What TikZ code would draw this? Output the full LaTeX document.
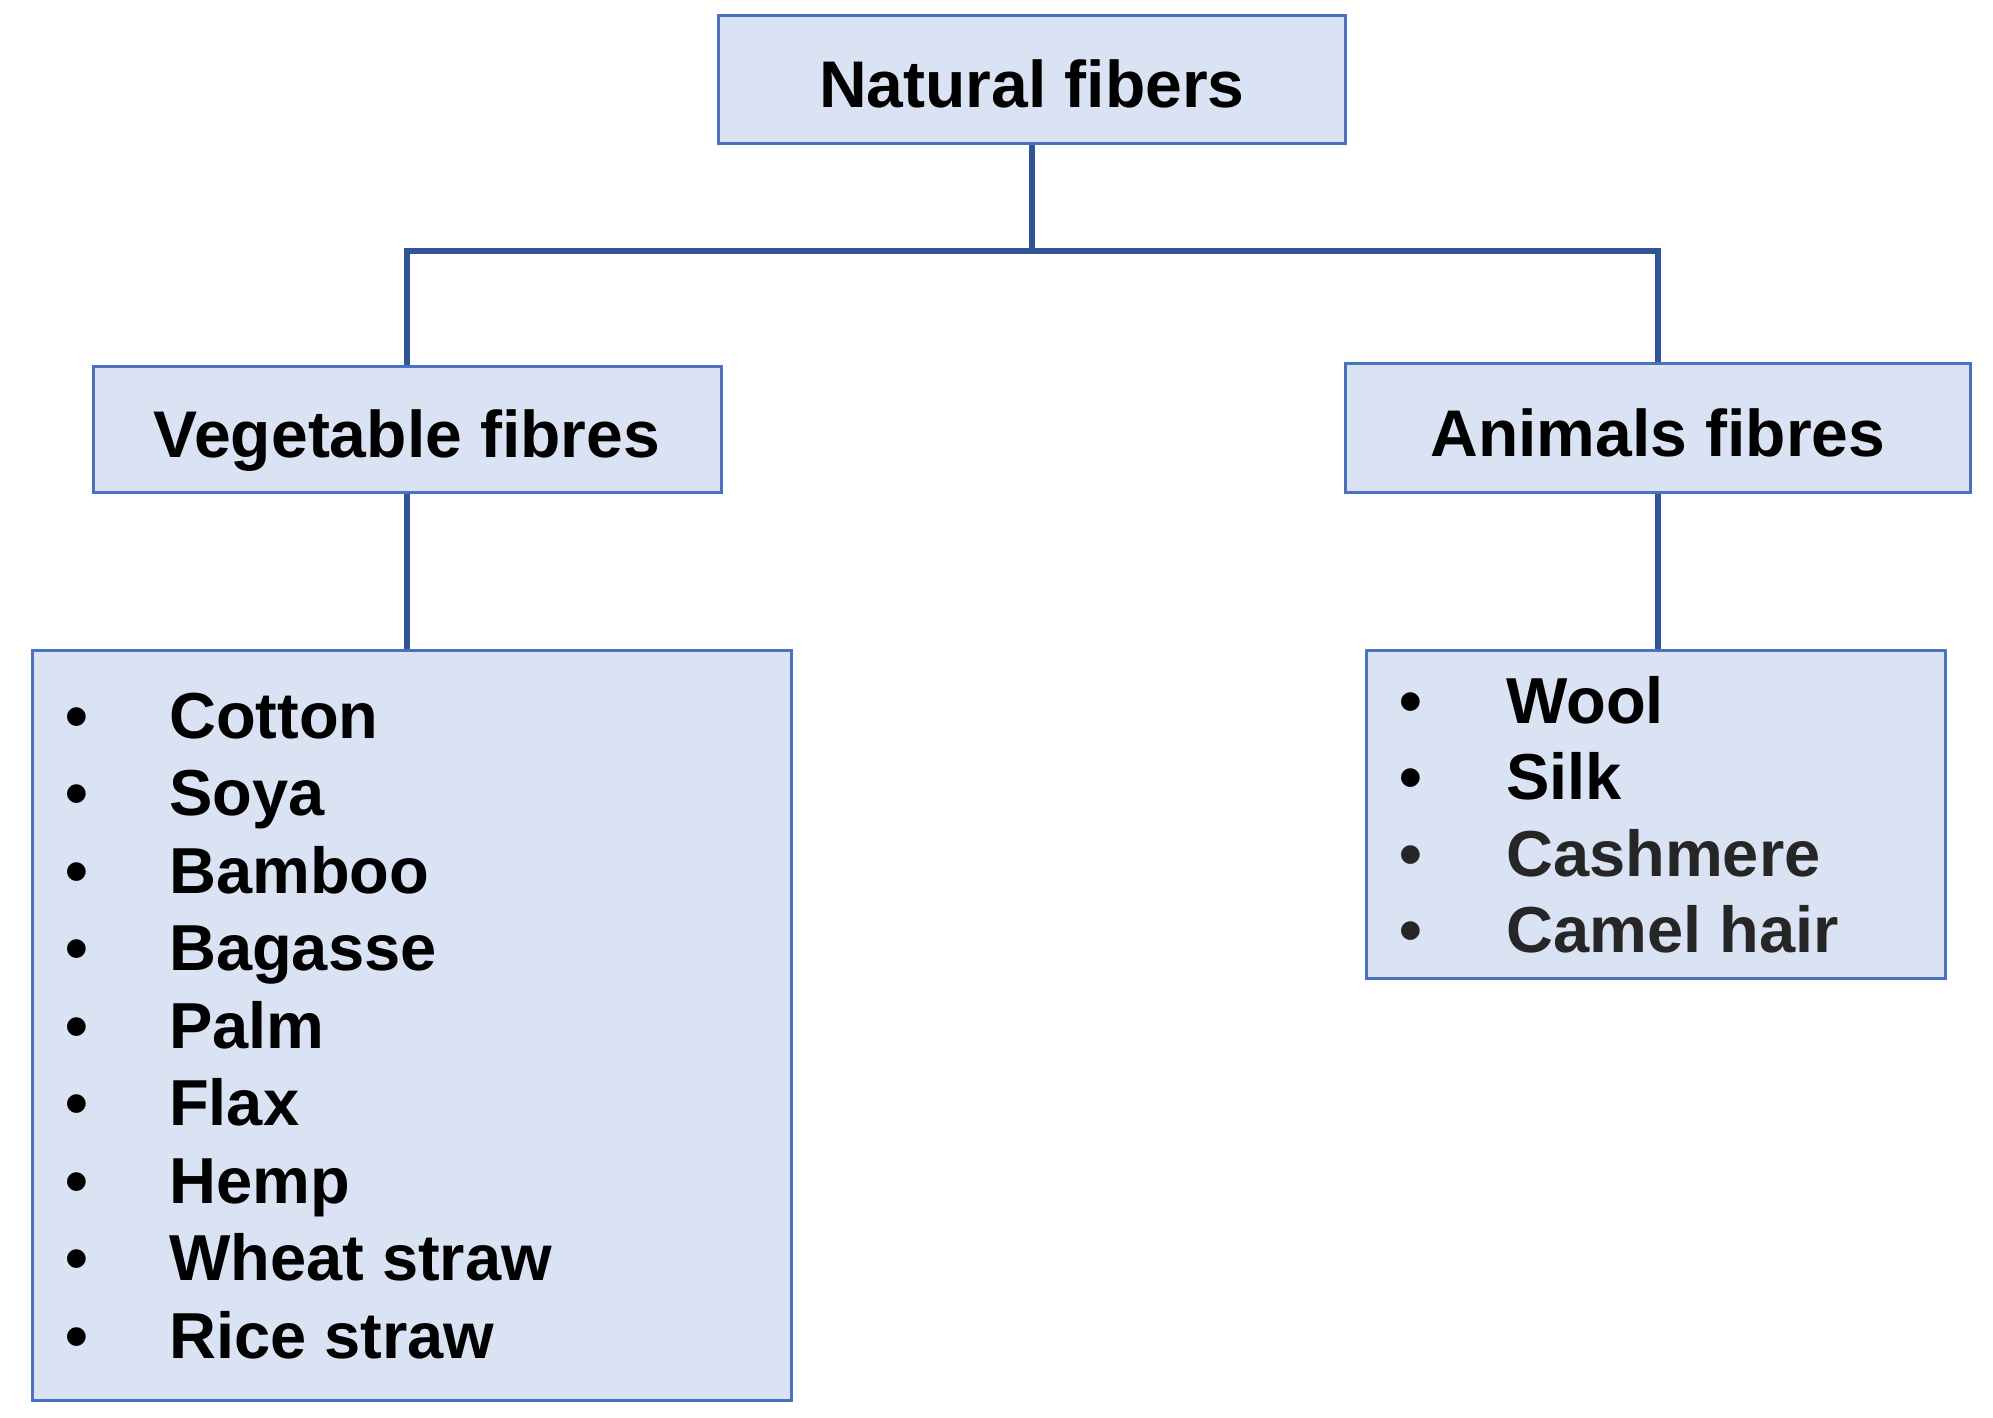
\documentclass[tikz,border=0pt]{standalone}
\usepackage{fontspec}
\setmainfont{Liberation Sans}
\definecolor{boxfill}{HTML}{DAE3F3}
\definecolor{boxline}{HTML}{4A72BE}
\definecolor{connline}{HTML}{2F5597}
\definecolor{softblack}{HTML}{262626}
\begin{document}
\begin{tikzpicture}[x=1pt,y=-1pt,
  box/.style={draw=boxline, fill=boxfill, line width=3pt, inner sep=0pt},
  head/.style={box, text height=56pt, text depth=0pt, font=\fontsize{66}{78}\selectfont\bfseries},
  item/.style={anchor=base west, inner sep=0pt, font=\fontsize{65}{78}\selectfont\bfseries},
  bul/.style={anchor=base, inner sep=0pt, font=\fontsize{65}{78}\selectfont\bfseries},
  conn/.style={draw=connline, line width=5.5pt}]
\useasboundingbox (0,0) rectangle (1993,1417);
% header boxes
\node[head, minimum width=627pt, minimum height=128pt] (nat) at (1032,79) {Natural fibers};
\node[head, minimum width=628pt, minimum height=126pt] (veg) at (407,429) {Vegetable fibres};
\node[head, minimum width=625pt, minimum height=129pt] (anim) at (1658,428) {Animals fibres};
% list boxes
\node[box, minimum width=759pt, minimum height=750pt] (veglist) at (411.5,1025) {};
\node[box, minimum width=579pt, minimum height=328pt] (animlist) at (1656,814) {};
% connectors
\coordinate (bus) at (1032,251);
\draw[conn] (nat.south) -- (bus);
\draw[conn] (veg.north) -- (veg.north |- bus) -- (anim.north |- bus) -- (anim.north);
\draw[conn] (veg.south) -- (veg.south |- veglist.north);
\draw[conn] (anim.south) -- (anim.south |- animlist.north);
% vegetable items
\foreach \t [count=\i from 0] in {Cotton,Soya,Bamboo,Bagasse,Palm,Flax,Hemp,Wheat straw,Rice straw}{
  \node[bul] (vb\i) at (77,738+77.5*\i) {•};
  \node[item] (vi\i) at (169,738+77.5*\i) {\t};
}
% animal items
\node[bul] (ab0) at (1411,723) {•};
\node[item] (ai0) at (1506,723) {Wool};
\node[bul] (ab1) at (1411,799.5) {•};
\node[item] (ai1) at (1506,799.5) {Silk};
\node[bul, text=softblack] (ab2) at (1411,876) {•};
\node[item, text=softblack] (ai2) at (1506,876) {Cashmere};
\node[bul, text=softblack] (ab3) at (1411,952.5) {•};
\node[item, text=softblack] (ai3) at (1506,952.5) {Camel hair};
\end{tikzpicture}
\end{document}
